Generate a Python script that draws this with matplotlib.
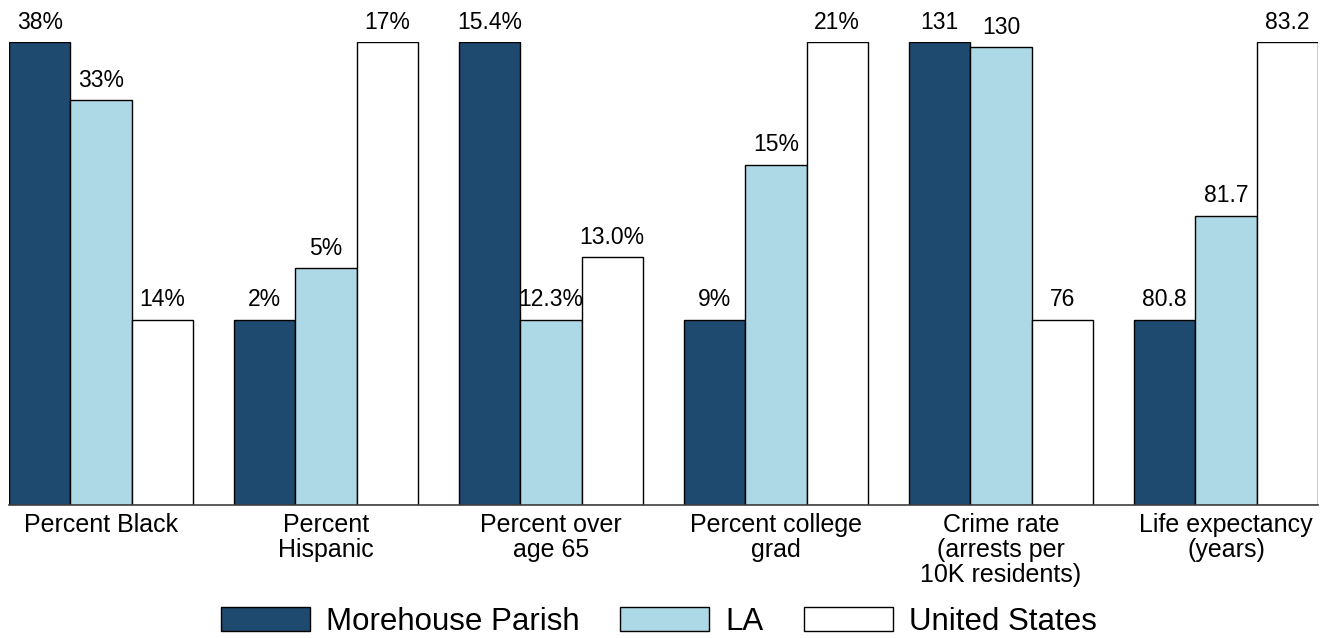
import matplotlib.pyplot as plt
import numpy as np

plt.rcParams['font.family'] = ['Liberation Sans', 'DejaVu Sans']

categories = ["Percent Black", "Percent\nHispanic", "Percent over\nage 65",
              "Percent college\ngrad", "Crime rate\n(arrests per\n10K residents)",
              "Life expectancy\n(years)"]
series = ["Morehouse Parish", "LA", "United States"]
colors = ["#1d4a6e", "#add8e6", "#ffffff"]

# values (each group is scaled on its own)
morehouse = [38, 2, 15.4, 9, 131, 80.8]
la = [33, 4.8, 12.3, 15.7, 130, 81.7]
us = [14, 17, 13.0, 21, 76, 83.2]

morehouse_lbl = ["38%", "2%", "15.4%", "9%", "131", "80.8"]
la_lbl = ["33%", "5%", "12.3%", "15%", "130", "81.7"]
us_lbl = ["14%", "17%", "13.0%", "21%", "76", "83.2"]


def scaled(groups):
    # min of each group sits at 40% of the height, max at the top
    arr = np.array(groups, dtype=float)
    lo = arr.min(axis=0)
    hi = arr.max(axis=0)
    return 0.4 + 0.6 * (arr - lo) / (hi - lo)


def main():
    heights = scaled([morehouse, la, us])
    labels = [morehouse_lbl, la_lbl, us_lbl]

    fig = plt.figure(figsize=(13.31, 6.38), dpi=100)
    ax = fig.add_axes([0.00676, 0.2085, 0.9834, 0.7257])

    period = 3.67
    x = np.arange(len(categories)) * period
    for j in range(3):
        xs = x + (j - 1)
        bars = ax.bar(xs, heights[j], width=1.0, color=colors[j], edgecolor="black",
                      linewidth=1.0, label=series[j])
        for b, t in zip(bars, labels[j]):
            ax.annotate(t, (b.get_x() + b.get_width() / 2, b.get_height()),
                        xytext=(0, 6), textcoords="offset points",
                        ha="center", va="bottom", fontsize=16.5)

    ax.set_xlim(-1.5, x[-1] + 1.5)
    ax.set_ylim(0, 1)
    ax.set_xticks(x)
    ax.set_xticklabels(categories, fontsize=18, linespacing=1.05)
    ax.tick_params(axis="x", length=0, pad=6)
    ax.set_yticks([])
    for s in ["top", "left", "right"]:
        ax.spines[s].set_visible(False)
    ax.spines["bottom"].set_color("#404040")
    ax.spines["bottom"].set_linewidth(1.2)

    fig.legend(loc="lower center", bbox_to_anchor=(0.495, -0.042), ncol=3,
               frameon=False, fontsize=22.5, handlelength=2.85, handleheight=0.78,
               handletextpad=0.5, columnspacing=1.3)

    fig.savefig("out.png", dpi=100)
    plt.close(fig)


if __name__ == '__main__':
    main()
